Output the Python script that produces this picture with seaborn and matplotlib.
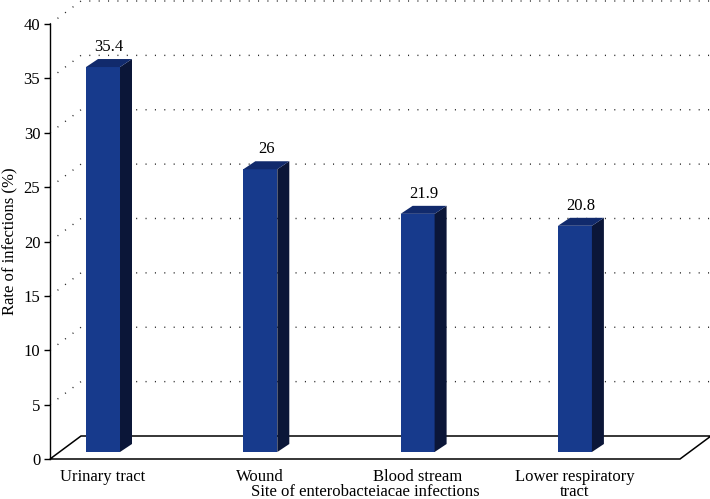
import matplotlib
matplotlib.use("Agg")
import matplotlib.pyplot as plt
from matplotlib.patches import Polygon
from matplotlib.lines import Line2D
from matplotlib.transforms import Affine2D
import numpy as np
import pandas as pd
import seaborn as sns

# ---- data ----
categories = ["Urinary tract", "Wound", "Blood stream", "Lower respiratory\ntract"]
rates = [35.4, 26, 21.9, 20.8]
yticks = [0, 5, 10, 15, 20, 25, 30, 35, 40]
x_title = "Site of enterobacteiacae infections"
y_title = "Rate of infections (%)"

# ---- style ----
FRONT = "#173a8c"
SIDE = "#0b1638"
TOP = "#112a6c"
sns.set_theme(style="white")
plt.rcParams['font.family'] = ['Liberation Serif', 'DejaVu Serif']
plt.rcParams.update({'text.color': 'black', 'axes.labelcolor': 'black',
                     'xtick.color': 'black', 'ytick.color': 'black'})

W, H, DPI = 710, 499, 100
fig = plt.figure(figsize=(W / DPI, H / DPI), dpi=DPI)
ax = fig.add_axes([50 / W, 40 / H, 630 / W, 435 / H])

df = pd.DataFrame({"site": categories, "rate": rates})
sns.barplot(data=df, x="site", y="rate", color=FRONT, saturation=1, width=0.216,
            linewidth=0, edgecolor="none", ax=ax, zorder=3)

ax.set_xlim(-0.337, 3.668)
ax.set_ylim(0, 40)

# pixel offsets for the pseudo-3D look (display px, y up)
BAR_SHIFT = np.array([0.0, 7.0])
BAR_DEPTH = np.array([12.0, 8.0])
FLOOR_DEPTH = np.array([31.0, 23.0])

to_px = ax.transData.transform
to_dat = ax.transData.inverted().transform

x0, x1 = ax.get_xlim()

# floor
A = to_px((x0, 0)); B = to_px((x1, 0))
floor = np.array([A, B, B + FLOOR_DEPTH, A + FLOOR_DEPTH])
ax.add_patch(Polygon(to_dat(floor), closed=True, facecolor="white", edgecolor="black",
                     linewidth=1.1, zorder=1, clip_on=False))

# dotted grid on side and back walls
for t in yticks[1:]:
    P = to_px((x0, t))
    Q = P + FLOOR_DEPTH
    R = np.array([B[0] + FLOOR_DEPTH[0], Q[1]])
    pts = to_dat(np.array([P, Q, R]))
    ax.add_line(Line2D(pts[:, 0], pts[:, 1], color="#222222", linewidth=1.0,
                       linestyle=(0, (0.75, 6.0)), zorder=0.5, clip_on=False))

# bars: shift the front faces and add side/top faces
shift = Affine2D().translate(*BAR_SHIFT)
for p in list(ax.patches):
    if not hasattr(p, "get_width") or p.get_facecolor()[:3] == (1, 1, 1):
        continue
    bx, bw, bh = p.get_x(), p.get_width(), p.get_height()
    if bh <= 0:
        continue
    p.set_transform(ax.transData + shift)
    p.set_clip_on(False)
    br = to_px((bx + bw, 0)) + BAR_SHIFT
    tl = to_px((bx, bh)) + BAR_SHIFT
    tr = to_px((bx + bw, bh)) + BAR_SHIFT
    side = np.array([br, tr, tr + BAR_DEPTH, br + BAR_DEPTH])
    top = np.array([tl, tr, tr + BAR_DEPTH, tl + BAR_DEPTH])
    ax.add_patch(Polygon(to_dat(side), closed=True, facecolor=SIDE, edgecolor="none",
                         zorder=3, clip_on=False))
    ax.add_patch(Polygon(to_dat(top), closed=True, facecolor=TOP, edgecolor="none",
                         zorder=3, clip_on=False))

# value labels
for i, v in enumerate(rates):
    ax.annotate(f"{v:g}", xy=(i, v), xytext=(6, 23), textcoords="offset pixels",
                ha="center", va="baseline", fontsize=12, zorder=5)

# axes decoration
for s in ["top", "right", "bottom"]:
    ax.spines[s].set_visible(False)
ax.spines["left"].set_color("black")
ax.spines["left"].set_linewidth(1.0)
ax.set_yticks(yticks)
ax.tick_params(axis="y", left=True, direction="out", length=4, width=1,
               labelsize=12, pad=3)
ax.tick_params(axis="x", bottom=False, length=0, pad=7, labelsize=12)
for lbl in ax.get_xticklabels():
    lbl.set_linespacing(0.95)
ax.grid(False)

ax.set_ylabel(y_title, fontsize=12)
ax.yaxis.set_label_coords(-0.05, 0.5)
ax.set_xlabel(x_title, fontsize=12, va="top")
ax.xaxis.set_label_coords(0.5, -0.057)

fig.savefig("out.png", dpi=DPI)
